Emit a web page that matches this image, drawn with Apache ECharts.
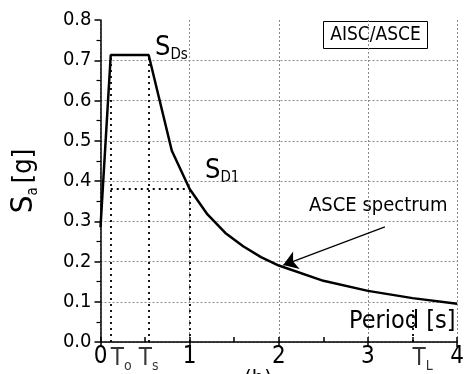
<!DOCTYPE html>
<html><head><meta charset="utf-8">
<script src="https://cdn.jsdelivr.net/npm/echarts@6/dist/echarts.min.js"></script>
<style>html,body{margin:0;padding:0;background:#fff}#c{width:467px;height:374px}</style>
</head><body><div id="c"></div>
<script>
// ---- data ----
const periods = [0, 0.115, 0.54, 0.8, 1.0, 1.2, 1.4, 1.6, 1.8, 2.0, 2.5, 3.0, 3.5, 4.0];
const saValues = [0.285, 0.713, 0.713, 0.475, 0.38, 0.317, 0.271, 0.238, 0.211, 0.19, 0.152, 0.127, 0.109, 0.095];
const xTickLabels = ['0', '1', '2', '3', '4'];
const yTickLabels = ['0.0', '0.1', '0.2', '0.3', '0.4', '0.5', '0.6', '0.7', '0.8'];
const T0 = 0.115, Ts = 0.54, TL = 3.5;
const SDS = 0.713, SD1 = 0.38;
const tLabelNames = ['o', 's', 'L'];
const tLabelValues = [T0, Ts, TL];
const arrowFrom = [3.19, 0.286], arrowTo = [2.05, 0.191];

const FONT = '"DejaVu Sans Condensed", "DejaVu Sans", sans-serif';
const chart = echarts.init(document.getElementById('c'));

const gridColors = yTickLabels.map((_, i) => i === yTickLabels.length - 1 ? 'rgba(0,0,0,0)' : '#8a8a8a');

const guides = [
  [[T0, 0], [T0, SDS]],
  [[Ts, 0], [Ts, SDS]],
  [[1, 0], [1, SD1]],
  [[T0, SD1], [1, SD1]],
  [[TL, 0], [TL, 0.08]]
].map(p => [{coord: p[0]}, {coord: p[1]}]);

const tAlign = ['left', 'center', 'left'];

const option = {
  animation: false,
  grid: {left: 98, right: 1, top: 20, bottom: 32, containLabel: false},
  xAxis: [{
    type: 'value', min: 0, max: 4, interval: 1, position: 'bottom',
    axisLine: {show: true, onZero: false, lineStyle: {color: '#000', width: 1.5}},
    axisTick: {show: true, inside: false, length: 5, lineStyle: {color: '#000', width: 1.5}},
    axisLabel: {show: true, color: '#000', fontSize: 24, fontFamily: FONT, margin: 3,
      formatter: v => xTickLabels[Math.round(v)]},
    splitLine: {show: true, lineStyle: {color: '#8a8a8a', type: [2, 2], width: 1}}
  }, {
    type: 'value', min: 0, max: 4, interval: 0.5, position: 'bottom',
    axisLine: {show: false}, axisLabel: {show: false}, splitLine: {show: false},
    axisTick: {show: true, inside: true, length: 5, lineStyle: {color: '#000', width: 1.5}}
  }],
  yAxis: {
    type: 'value', min: 0, max: 0.8, interval: 0.1,
    axisLine: {show: true, lineStyle: {color: '#000', width: 1.5}},
    axisTick: {show: true, inside: false, length: 6, lineStyle: {color: '#000', width: 1.5}},
    minorTick: {show: true, splitNumber: 2, length: 4, lineStyle: {color: '#000', width: 1.2}},
    axisLabel: {color: '#000', fontSize: 20, fontFamily: FONT, margin: 9,
      formatter: v => yTickLabels[Math.round(v * 10)]},
    splitLine: {show: true, lineStyle: {color: gridColors, type: [2, 2], width: 1}},
    name: '{s|S}{sub|a}{g|[g]}', nameLocation: 'middle', nameGap: 60,
    nameTextStyle: {color: '#000', fontFamily: FONT,
      rich: {
        s: {fontSize: 31, fontFamily: FONT, color: '#000', lineHeight: 34},
        g: {fontSize: 27, fontFamily: FONT, color: '#000', lineHeight: 34, padding: [0, 0, 0, 4]},
        sub: {fontSize: 15, fontFamily: FONT, color: '#000', verticalAlign: 'bottom', lineHeight: 18, padding: [12, 0, 0, 0]}
      }}
  },
  series: [{
    type: 'line', data: periods.map((p, i) => [p, saValues[i]]),
    showSymbol: false, symbol: 'none',
    lineStyle: {color: '#000', width: 2.5}, z: 5,
    markLine: {
      silent: true, symbol: ['none', 'none'], label: {show: false},
      lineStyle: {color: '#000', type: [2, 4], width: 1.8},
      data: guides
    }
  }, {
    type: 'line', data: [], z: 6, markLine: {
      silent: true, symbol: ['none', 'arrow'], symbolSize: 14, label: {show: false},
      lineStyle: {color: '#000', type: 'solid', width: 1.2},
      itemStyle: {color: '#000'},
      data: [[{coord: arrowFrom}, {coord: arrowTo}]]
    }
  }, {
    type: 'scatter', symbolSize: 0, z: 10,
    data: tLabelValues.map((v, i) => ({value: [v, 0], name: tLabelNames[i], label: {align: tAlign[i]}})),
    label: {
      show: true, position: 'bottom', distance: 3,
      formatter: p => '{t|T}{sub|' + p.name + '}',
      rich: {
        t: {fontSize: 24, fontFamily: FONT, color: '#000', lineHeight: 28},
        sub: {fontSize: 14, fontFamily: FONT, color: '#000', verticalAlign: 'bottom', lineHeight: 14, padding: [12, 0, 0, 0]}
      }
    }
  }],
  graphic: [
    {type: 'text', left: 155, top: 34, style: {
      text: '{s|S}{sub|Ds}', rich: {
        s: {fontSize: 27, fontFamily: FONT, fill: '#000', lineHeight: 30},
        sub: {fontSize: 15, fontFamily: FONT, fill: '#000', verticalAlign: 'bottom', lineHeight: 14, padding: [14, 0, 0, 0]}
      }}},
    {type: 'text', left: 205, top: 157, style: {
      text: '{s|S}{sub|D1}', rich: {
        s: {fontSize: 27, fontFamily: FONT, fill: '#000', lineHeight: 30},
        sub: {fontSize: 15, fontFamily: FONT, fill: '#000', verticalAlign: 'bottom', lineHeight: 14, padding: [14, 0, 0, 0]}
      }}},
    {type: 'text', left: 309, top: 196, style: {text: 'ASCE spectrum', font: '20px ' + FONT, fill: '#000'}},
    {type: 'text', left: 349, top: 309, style: {text: 'Period [s]', font: '25px ' + FONT, fill: '#000'}},
    {type: 'group', left: 323, top: 21, children: [
      {type: 'rect', shape: {x: 0, y: 0, width: 104, height: 27}, style: {fill: '#fff', stroke: '#000', lineWidth: 1}},
      {type: 'text', x: 52, y: 14, style: {text: 'AISC/ASCE', font: '19px ' + FONT, fill: '#000', textAlign: 'center', textVerticalAlign: 'middle'}}
    ]},
    {type: 'text', left: 244, top: 368, style: {text: '(b)', font: '22px ' + FONT, fill: '#000'}}
  ]
};
chart.setOption(option);
</script>
</body></html>
